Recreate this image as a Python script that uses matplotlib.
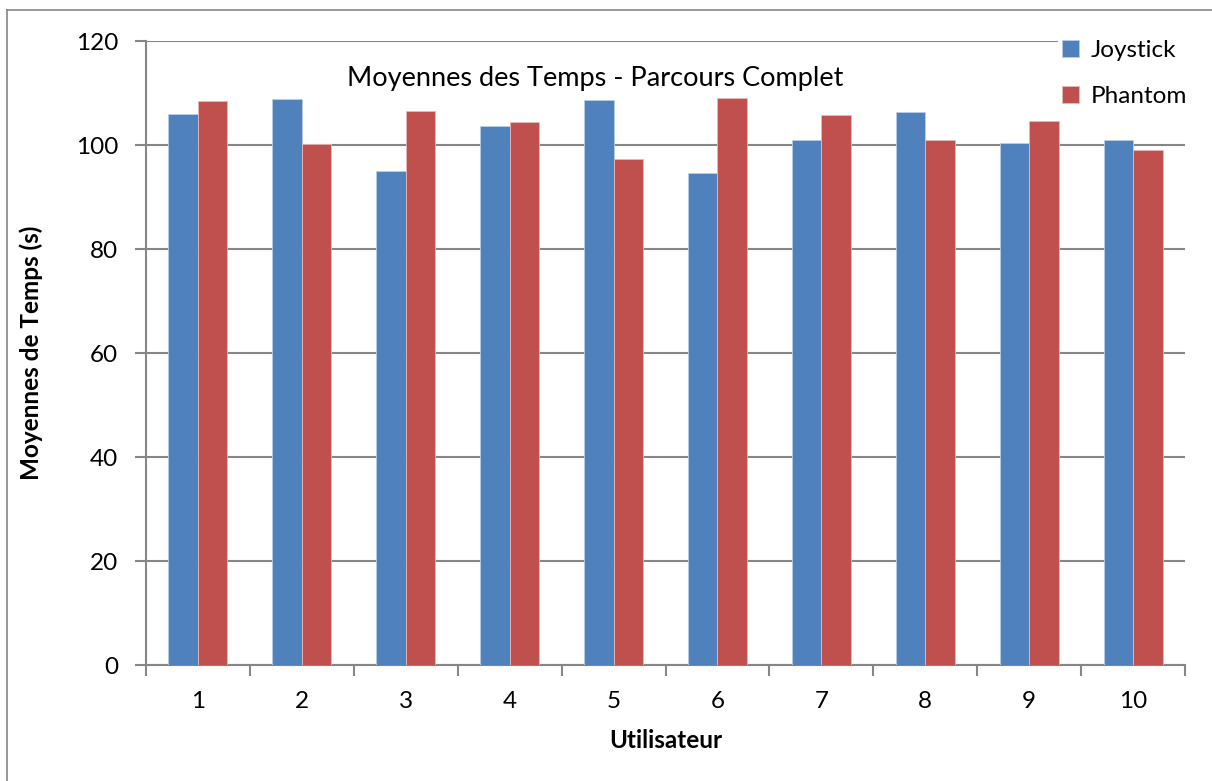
import numpy as np
import matplotlib.pyplot as plt
from matplotlib.lines import Line2D

USERS = ['1', '2', '3', '4', '5', '6', '7', '8', '9', '10']
JOYSTICK = [106.0, 108.9, 95.0, 103.6, 108.7, 94.6, 101.0, 106.3, 100.3, 100.9]
PHANTOM = [108.5, 100.1, 106.6, 104.5, 97.4, 109.0, 105.7, 100.9, 104.6, 99.0]

BLUE = '#4F81BD'
RED = '#C0504D'
GREY = '#868686'
FONT = 'Lato'


def main():
    fig = plt.figure(figsize=(12.12, 7.81), dpi=100)
    ax = fig.add_axes([146 / 1212, 1 - 665 / 781, 1039 / 1212, 624 / 781])

    x = np.arange(len(USERS))
    width = 0.284
    ax.bar(x - width / 2, JOYSTICK, width, color=BLUE, edgecolor='#B9CDE5',
           linewidth=0.6, label='Joystick', zorder=3)
    ax.bar(x + width / 2, PHANTOM, width, color=RED, edgecolor='#E6B9B8',
           linewidth=0.6, label='Phantom', zorder=3)

    ax.set_xlim(-0.5, len(USERS) - 0.5)
    ax.set_ylim(0, 120)
    ax.set_yticks(range(0, 121, 20))
    ax.yaxis.grid(True, color=GREY, linewidth=1.5, zorder=0)

    ax.set_xticks(x)
    ax.set_xticklabels(USERS, fontsize=17.5, family=FONT)
    ax.set_xticks(np.arange(-0.5, len(USERS), 1), minor=True)
    ax.tick_params(axis='x', which='major', length=0, pad=19)
    ax.tick_params(axis='x', which='minor', length=8, width=1.5, color=GREY)
    ax.tick_params(axis='y', length=8, width=1.5, color=GREY, pad=12)
    for lab in ax.get_yticklabels():
        lab.set_fontsize(17.5)
        lab.set_family(FONT)

    for side in ['top', 'right']:
        ax.spines[side].set_visible(False)
    for side in ['left', 'bottom']:
        ax.spines[side].set_color(GREY)
        ax.spines[side].set_linewidth(1.5)

    ax.set_xlabel('Utilisateur', fontsize=17.5, fontweight='bold', family=FONT,
                  labelpad=12)
    ax.set_ylabel('Moyennes de Temps (s)', fontsize=17.5, fontweight='bold',
                  family=FONT, labelpad=24)

    ax.text(0.432, 0.94, 'Moyennes des Temps - Parcours Complet',
            transform=ax.transAxes, ha='center', va='center',
            fontsize=19.5, family=FONT)

    fig.legend(loc='upper left', bbox_to_anchor=(1046 / 1212, 1 - 24 / 781),
               frameon=True, fancybox=False, edgecolor='white',
               facecolor='white', framealpha=1,
               prop={'family': FONT, 'size': 17.5}, handlelength=0.7,
               handleheight=0.7, handletextpad=0.5, labelspacing=1.05,
               borderpad=0.15)

    # outer chart frame
    fig.add_artist(Line2D([7 / 1212, 7 / 1212], [0, 1 - 10 / 781],
                          transform=fig.transFigure, color=GREY, linewidth=1.2))
    fig.add_artist(Line2D([7 / 1212, 1], [1 - 10 / 781, 1 - 10 / 781],
                          transform=fig.transFigure, color=GREY, linewidth=1.2))

    fig.savefig('out.png', dpi=100)


if __name__ == '__main__':
    main()
